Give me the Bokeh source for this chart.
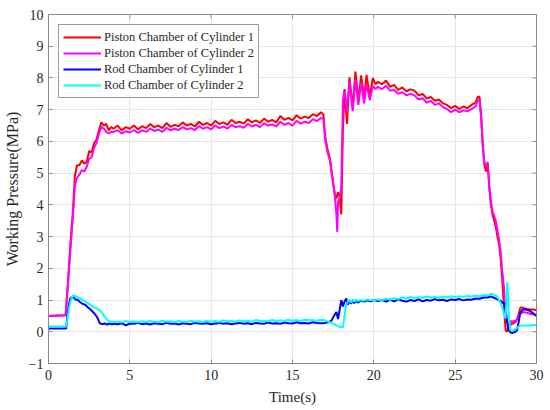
import math
from bokeh.plotting import figure
from bokeh.models import Legend, LegendItem, FixedTicker, Range1d
from bokeh.embed import file_html
from bokeh.resources import INLINE

# ---------------- data ----------------
t_piston = [0, 1.05, 1.2, 1.35, 1.5, 1.62, 1.75, 1.9, 2.05, 2.2, 2.35, 2.5, 2.65, 2.8, 2.95, 3.1, 3.25, 3.4, 3.55, 3.7, 3.85, 4.0,
            4.25, 4.5, 4.75, 5.0, 5.25, 5.5, 5.75, 6.0, 6.25, 6.5, 6.75, 7.0, 7.25, 7.5, 7.75, 8.0, 8.25, 8.5, 8.75, 9.0,
            9.25, 9.5, 9.75, 10.0, 10.25, 10.5, 10.75, 11.0, 11.25, 11.5, 11.75, 12.0, 12.25, 12.5, 12.75, 13.0, 13.25,
            13.5, 13.75, 14.0, 14.25, 14.5, 14.75, 15.0, 15.25, 15.5, 15.75, 16.0, 16.25, 16.5, 16.75,
            16.9, 17.0, 17.15, 17.3, 17.45, 17.6, 17.7, 17.75, 17.8, 17.9,
            18.0, 18.1, 18.2, 18.35, 18.5, 18.7, 18.87, 19.05, 19.22, 19.4, 19.55, 19.75, 19.94, 20.1,
            20.25, 20.5, 20.75, 21.0, 21.25, 21.5, 21.75, 22.0, 22.25, 22.5, 22.75, 23.0, 23.25, 23.5, 23.75, 24.0,
            24.25, 24.5, 24.75, 25.0, 25.25, 25.5, 25.75, 26.0, 26.25, 26.4,
            26.5, 26.6, 26.7, 26.8, 26.9, 27.0, 27.1, 27.2, 27.3, 27.4, 27.5, 27.6, 27.7, 27.8, 27.9, 28.0, 28.1, 28.2,
            28.3, 28.4, 28.5, 28.6, 28.7, 28.8, 28.9, 29.0, 29.1, 29.2, 29.4, 29.6, 29.8, 30.0]

piston_cyl1 = [0.5, 0.52, 1.6, 2.8, 3.8, 4.9, 5.25, 5.25, 5.4, 5.3, 5.35, 5.7, 5.65, 5.95, 6.05, 6.35, 6.6, 6.5, 6.55, 6.35, 6.45, 6.4,
               6.5, 6.35, 6.45, 6.4, 6.5, 6.38, 6.48, 6.42, 6.55, 6.45, 6.5, 6.42, 6.58, 6.46, 6.52, 6.48, 6.6, 6.5, 6.55, 6.47,
               6.62, 6.52, 6.58, 6.5, 6.65, 6.55, 6.6, 6.52, 6.68, 6.58, 6.62, 6.56, 6.7, 6.6, 6.66, 6.58, 6.72,
               6.62, 6.68, 6.6, 6.8, 6.68, 6.74, 6.66, 6.82, 6.72, 6.78, 6.74, 6.86, 6.8, 6.92,
               6.85, 6.2, 5.75, 5.45, 4.9, 4.35, 4.2, 4.3, 4.4, 4.25,
               3.7, 6.4, 7.65, 6.55, 8.02, 7.08, 8.2, 7.29, 8.08, 7.35, 8.1, 7.41, 8.0, 7.8,
               7.88, 7.8, 7.92, 7.72, 7.78, 7.62, 7.7, 7.58, 7.64, 7.6, 7.45, 7.5, 7.35, 7.4, 7.28, 7.32,
               7.2, 7.15, 7.05, 7.12, 7.02, 7.1, 7.05, 7.15, 7.22, 7.42,
               7.4, 6.8, 5.9, 5.25, 5.05, 5.3, 4.5, 4.0, 3.7, 3.5, 3.3, 3.0, 2.75, 2.3, 1.6, 0.8, 0.05, 0.0,
               0.25, 0.22, 0.25, 0.27, 0.3, 0.4, 0.55, 0.75, 0.77, 0.75, 0.72, 0.7, 0.7, 0.68]

piston_cyl2 = [0.5, 0.52, 1.5, 2.6, 3.6, 4.6, 4.85, 4.95, 5.1, 5.05, 5.2, 5.45, 5.5, 5.8, 5.95, 6.25, 6.45, 6.4, 6.3, 6.25, 6.3, 6.3,
               6.35, 6.25, 6.32, 6.28, 6.36, 6.27, 6.35, 6.3, 6.4, 6.33, 6.37, 6.3, 6.43, 6.35, 6.4, 6.36, 6.45, 6.38, 6.42, 6.36,
               6.48, 6.4, 6.45, 6.38, 6.5, 6.42, 6.47, 6.4, 6.52, 6.45, 6.48, 6.43, 6.55, 6.47, 6.52, 6.45, 6.57,
               6.5, 6.54, 6.47, 6.62, 6.52, 6.58, 6.5, 6.65, 6.56, 6.62, 6.58, 6.7, 6.64, 6.74,
               6.7, 6.1, 5.65, 5.4, 4.85, 4.3, 3.7, 3.15, 4.1, 4.2,
               4.6, 7.3, 7.6, 6.95, 7.9, 6.95, 7.95, 7.15, 7.85, 7.2, 7.8, 7.3, 7.75, 7.65,
               7.72, 7.65, 7.75, 7.6, 7.62, 7.5, 7.55, 7.45, 7.5, 7.45, 7.32, 7.36, 7.22, 7.28, 7.15, 7.2,
               7.08, 7.02, 6.92, 7.0, 6.92, 6.98, 6.95, 7.02, 7.1, 7.3,
               7.3, 6.7, 5.8, 5.3, 5.25, 5.35, 4.6, 4.1, 3.8, 3.65, 3.5, 3.2, 2.9, 2.5, 1.9, 1.4, 0.6, 0.3,
               0.2, 0.35, 0.3, 0.35, 0.33, 0.4, 0.5, 0.56, 0.6, 0.62, 0.6, 0.57, 0.55, 0.53]

t_rod = [0, 1.08, 1.15, 1.25, 1.35, 1.5, 1.65, 1.8, 1.95, 2.1, 2.25, 2.4, 2.55, 2.7, 2.85, 3.0, 3.15, 3.3, 3.45, 3.6, 3.75, 3.9, 4.0,
         4.25, 4.5, 4.75, 5.0, 5.25, 5.5, 5.75, 6.0, 6.25, 6.5, 6.75, 7.0, 7.25, 7.5, 7.75, 8.0, 8.25, 8.5, 8.75, 9.0,
         9.25, 9.5, 9.75, 10.0, 10.25, 10.5, 10.75, 11.0, 11.25, 11.5, 11.75, 12.0, 12.25, 12.5, 12.75, 13.0, 13.25,
         13.5, 13.75, 14.0, 14.25, 14.5, 14.75, 15.0, 15.25, 15.5, 15.75, 16.0, 16.25, 16.5, 16.75,
         17.0, 17.2, 17.4, 17.55, 17.7, 17.8, 17.9, 18.0, 18.1, 18.2, 18.3, 18.4, 18.5, 18.6, 18.7, 18.8, 18.9, 19.0,
         19.2, 19.4, 19.6, 19.8, 20.0,
         20.25, 20.5, 20.75, 21.0, 21.25, 21.5, 21.75, 22.0, 22.25, 22.5, 22.75, 23.0, 23.25, 23.5, 23.75, 24.0,
         24.25, 24.5, 24.75, 25.0, 25.25, 25.5, 25.75, 26.0, 26.25, 26.5, 26.75,
         27.0, 27.2, 27.4, 27.6, 27.8, 27.9, 28.0, 28.1, 28.2, 28.25, 28.3, 28.4, 28.5, 28.6, 28.7, 28.8, 28.9, 29.0,
         29.15, 29.3, 29.5, 29.7, 29.85, 30.0]

rod_cyl1 = [0.1, 0.1, 0.45, 0.85, 1.05, 1.1, 1.02, 1.0, 0.93, 0.88, 0.85, 0.78, 0.72, 0.64, 0.56, 0.45, 0.27, 0.24, 0.26, 0.23, 0.26, 0.24, 0.25,
            0.24, 0.27, 0.2, 0.26, 0.25, 0.28, 0.24, 0.26, 0.23, 0.27, 0.25, 0.24, 0.28, 0.25, 0.26, 0.23, 0.27, 0.25, 0.24, 0.28,
            0.26, 0.25, 0.27, 0.24, 0.26, 0.28, 0.25, 0.27, 0.24, 0.26, 0.28, 0.25, 0.27, 0.24, 0.28, 0.26, 0.25,
            0.29, 0.26, 0.27, 0.25, 0.29, 0.27, 0.26, 0.3, 0.27, 0.28, 0.26, 0.3, 0.28, 0.27,
            0.28, 0.3, 0.35, 0.5, 0.62, 0.4, 0.7, 1.0, 0.8, 0.95, 1.05, 0.85, 1.0, 0.88, 1.0, 0.9, 1.0, 0.92,
            0.98, 0.95, 0.99, 0.96, 1.0,
            0.97, 1.0, 0.95, 1.01, 0.96, 1.02, 0.98, 0.95, 1.0, 0.97, 1.02, 0.96, 1.0, 0.98, 1.03, 0.99,
            1.01, 0.97, 1.02, 1.0, 1.03, 0.99, 1.02, 1.01, 1.05, 1.04, 1.08,
            1.08, 1.11, 1.07, 1.02, 0.97, 0.92, 0.9, 0.7, 0.3, 0.12, 0.05, -0.02, -0.04, -0.02, 0.0, 0.05, 0.3, 0.6,
            0.7, 0.71, 0.68, 0.62, 0.56, 0.5]

rod_cyl2 = [0.17, 0.17, 0.35, 0.7, 0.95, 1.15, 1.12, 1.08, 1.05, 1.0, 0.96, 0.9, 0.86, 0.8, 0.76, 0.72, 0.68, 0.6, 0.48, 0.38, 0.32, 0.33, 0.3,
            0.32, 0.3, 0.34, 0.31, 0.33, 0.3, 0.33, 0.31, 0.34, 0.32, 0.3, 0.35, 0.32, 0.33, 0.3, 0.34, 0.32, 0.31, 0.35, 0.32,
            0.33, 0.31, 0.35, 0.32, 0.34, 0.31, 0.36, 0.33, 0.34, 0.32, 0.36, 0.33, 0.35, 0.32, 0.37, 0.34, 0.35,
            0.33, 0.37, 0.34, 0.36, 0.34, 0.38, 0.35, 0.37, 0.34, 0.38, 0.36, 0.37, 0.35, 0.38,
            0.36, 0.32, 0.28, 0.24, 0.2, 0.18, 0.16, 0.15, 0.15, 0.5, 0.85, 0.95, 1.0, 0.92, 1.02, 0.95, 1.0, 0.97,
            1.0, 0.98, 1.02, 0.99, 1.0,
            1.02, 0.99, 1.04, 1.01, 1.06, 1.03, 1.08, 1.05, 1.1, 1.06, 1.09, 1.07, 1.11, 1.08, 1.1, 1.07,
            1.11, 1.09, 1.12, 1.1, 1.12, 1.1, 1.13, 1.11, 1.14, 1.12, 1.15,
            1.15, 1.2, 1.17, 1.1, 0.9, 0.75, 0.56, 0.42, 1.56, 1.2, 0.5, 0.05, 0.03, 0.05, 0.08, 0.12, 0.16, 0.19,
            0.2, 0.2, 0.2, 0.2, 0.21, 0.21]

series_names = ["Piston Chamber of Cylinder 1", "Piston Chamber of Cylinder 2",
                "Rod Chamber of Cylinder 1", "Rod Chamber of Cylinder 2"]
series_colors = ["#ff0000", "#ff00ff", "#0000ff", "#00ffff"]

x_ticks = [0, 5, 10, 15, 20, 25, 30]
y_ticks = [-1, 0, 1, 2, 3, 4, 5, 6, 7, 8, 9, 10]
x_min, x_max = 0, 30
y_min, y_max = -1, 10

FONT = "Liberation Serif"
AXC = "#8a8a8a"
TXT = "#262626"

p = figure(width=550, height=410, output_backend="svg", toolbar_location=None,
           x_range=Range1d(x_min, x_max), y_range=Range1d(y_min, y_max),
           min_border_left=47, min_border_right=14, min_border_top=14, min_border_bottom=47)
p.background_fill_color = "white"
p.border_fill_color = "white"
p.outline_line_color = AXC
p.outline_line_width = 1

p.xgrid.ticker = FixedTicker(ticks=x_ticks)
p.ygrid.ticker = FixedTicker(ticks=y_ticks)
p.grid.grid_line_color = "#e6e6e6"
p.grid.grid_line_width = 1

xs = [t_piston, t_piston, t_rod, t_rod]
ys = [piston_cyl1, piston_cyl2, rod_cyl1, rod_cyl2]
renderers = []
for x, y, c in zip(xs, ys, series_colors):
    renderers.append(p.line(x, y, line_color=c, line_width=2))

# mirrored inward ticks on top and right edges (from the tick lists)
p.ray(x=x_ticks, y=[y_max] * len(x_ticks), length=4, length_units="screen",
      angle=-math.pi / 2, line_color=AXC, line_width=1)
p.ray(x=[x_max] * len(y_ticks), y=y_ticks, length=4, length_units="screen",
      angle=math.pi, line_color=AXC, line_width=1)

# axes
for ax in (p.xaxis[0], p.yaxis[0]):
    ax.axis_line_color = AXC
    ax.major_tick_line_color = AXC
    ax.major_tick_in = 4
    ax.major_tick_out = 0
    ax.minor_tick_line_color = None
    ax.major_label_text_font = FONT
    ax.major_label_text_font_size = "14px"
    ax.major_label_text_color = TXT
    ax.axis_label_text_font = FONT
    ax.axis_label_text_font_style = "normal"
    ax.axis_label_text_color = TXT

p.xaxis.axis_label_text_font_size = "15px"
p.yaxis.axis_label_text_font_size = "16px"
p.xaxis.ticker = FixedTicker(ticks=x_ticks)
p.yaxis.ticker = FixedTicker(ticks=y_ticks)
p.xaxis.axis_label = "Time(s)"
p.yaxis.axis_label = "Working Pressure(MPa)"
p.xaxis.major_label_standoff = 6
p.yaxis.major_label_standoff = 5
p.xaxis.axis_label_standoff = 6
p.yaxis.axis_label_standoff = 5

legend = Legend(items=[LegendItem(label=n, renderers=[r]) for n, r in zip(series_names, renderers)],
                location="top_left", margin=10, padding=4, spacing=0,
                glyph_width=38, glyph_height=16, label_height=16, label_standoff=3,
                label_text_font=FONT, label_text_font_size="12.5px", label_text_color=TXT,
                border_line_color="#3a3a3a", border_line_width=1,
                background_fill_color="white", background_fill_alpha=1)
p.add_layout(legend, "center")

open("out.html", "w").write(file_html(p, INLINE))
